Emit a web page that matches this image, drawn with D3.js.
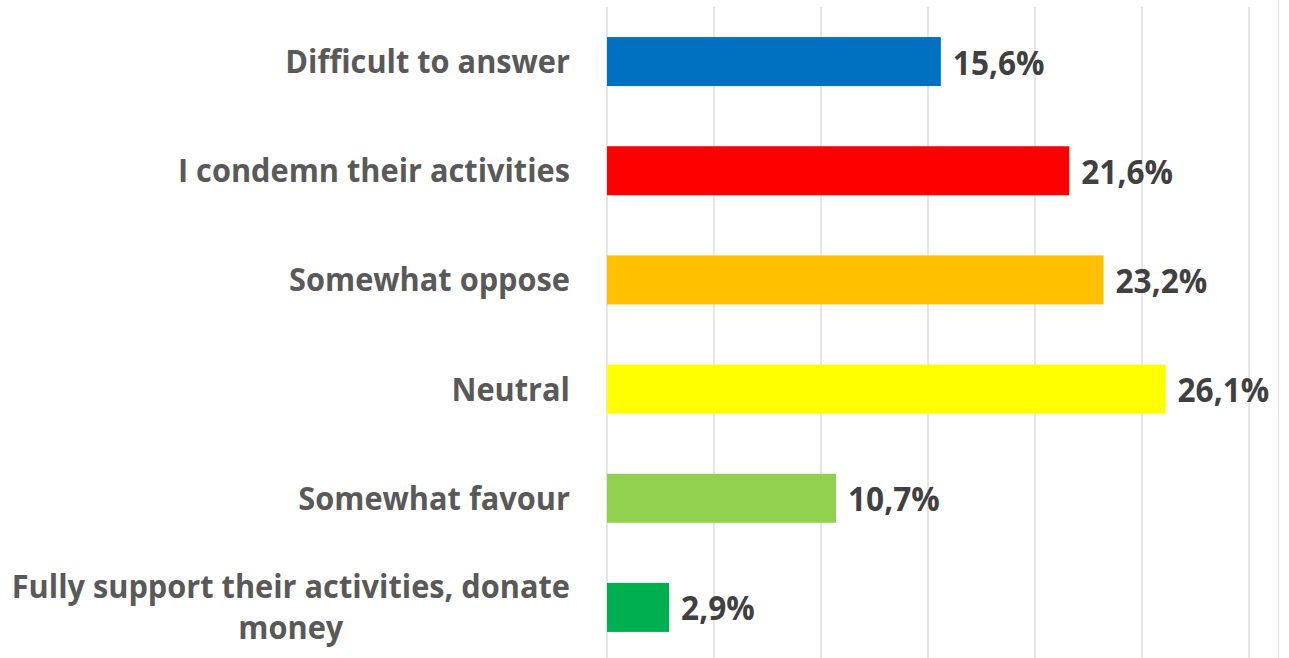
<!DOCTYPE html>
<html>
<head>
<meta charset="utf-8">
<script src="https://cdn.jsdelivr.net/npm/d3@7"></script>
<style>
  html, body { margin: 0; padding: 0; background: #ffffff; }
  svg { display: block; }
</style>
</head>
<body>
<svg id="chart" width="1289" height="658"></svg>
<script>
// Attitude towards their activities, share of respondents (%)
const categories = [
  "Difficult to answer",
  "I condemn their activities",
  "Somewhat oppose",
  "Neutral",
  "Somewhat favour",
  "Fully support their activities, donate money"
];
const values = [15.6, 21.6, 23.2, 26.1, 10.7, 2.9];
const barColors = ["#0070C0", "#FF0000", "#FFC000", "#FFFF00", "#92D050", "#00B050"];
const gridTicks = [0, 5, 10, 15, 20, 25, 30];
const labelLines = {
  "Fully support their activities, donate money": ["Fully support their activities, donate", "money"]
};

const W = 1289, H = 658;
const plot = { left: 607, right: 1249, top: 7, bottom: 662 };

const svg = d3.select("#chart");

const x = d3.scaleLinear().domain([0, 30]).range([plot.left, plot.right]);
const y = d3.scaleBand()
  .domain(categories)
  .range([plot.top, plot.bottom])
  .paddingInner(0.551)
  .paddingOuter(0.2755);

// vertical gridlines
svg.append("g").selectAll("line")
  .data(gridTicks)
  .join("line")
  .attr("x1", d => x(d)).attr("x2", d => x(d))
  .attr("y1", plot.top).attr("y2", H)
  .attr("stroke", "#d9d9d9")
  .attr("stroke-width", 1.3);

// outer frame edge on the right
svg.append("line")
  .attr("x1", 1278.5).attr("x2", 1278.5)
  .attr("y1", 0).attr("y2", H)
  .attr("stroke", "#dedede")
  .attr("stroke-width", 1);

// bars
svg.append("g").selectAll("rect")
  .data(values)
  .join("rect")
  .attr("x", x(0))
  .attr("y", (d, i) => y(categories[i]))
  .attr("width", d => x(d) - x(0))
  .attr("height", y.bandwidth())
  .attr("fill", (d, i) => barColors[i]);

// value labels
const fmt = v => d3.format(".1f")(v).replace(".", ",") + "%";
svg.append("g").selectAll("text")
  .data(values)
  .join("text")
  .attr("transform", (d, i) =>
    `translate(${x(d) + 12},${y(categories[i]) + y.bandwidth() / 2 + 13}) scale(0.93,1)`)
  .attr("font-family", "'Open Sans', 'Noto Sans', sans-serif")
  .attr("font-weight", 700)
  .attr("font-size", 34)
  .attr("fill", "#404040")
  .text(d => fmt(d));

// category labels, right aligned; wrapped labels are centred within their block
const labelRight = 570;
const catG = svg.append("g")
  .attr("font-family", "'Open Sans', 'Noto Sans', sans-serif")
  .attr("font-weight", 700)
  .attr("font-size", 32)
  .attr("fill", "#595959");

categories.forEach(c => {
  const cy = y(c) + y.bandwidth() / 2;
  const lines = labelLines[c] || [c];
  const g = catG.append("g");
  const lineGap = 41;
  const texts = lines.map((ln, k) =>
    g.append("text")
      .attr("y", cy + 11.5 + (k - (lines.length - 1) / 2) * lineGap)
      .attr("text-anchor", "middle")
      .text(ln));
  const sx = 0.96;
  const widths = texts.map(t => t.node().getComputedTextLength());
  const blockW = d3.max(widths) * sx;
  const centre = labelRight - blockW / 2;
  texts.forEach(t => {
    const yy = +t.attr("y");
    t.attr("y", null)
     .attr("transform", `translate(${centre},${yy}) scale(${sx},1)`);
  });
});
</script>
</body>
</html>
